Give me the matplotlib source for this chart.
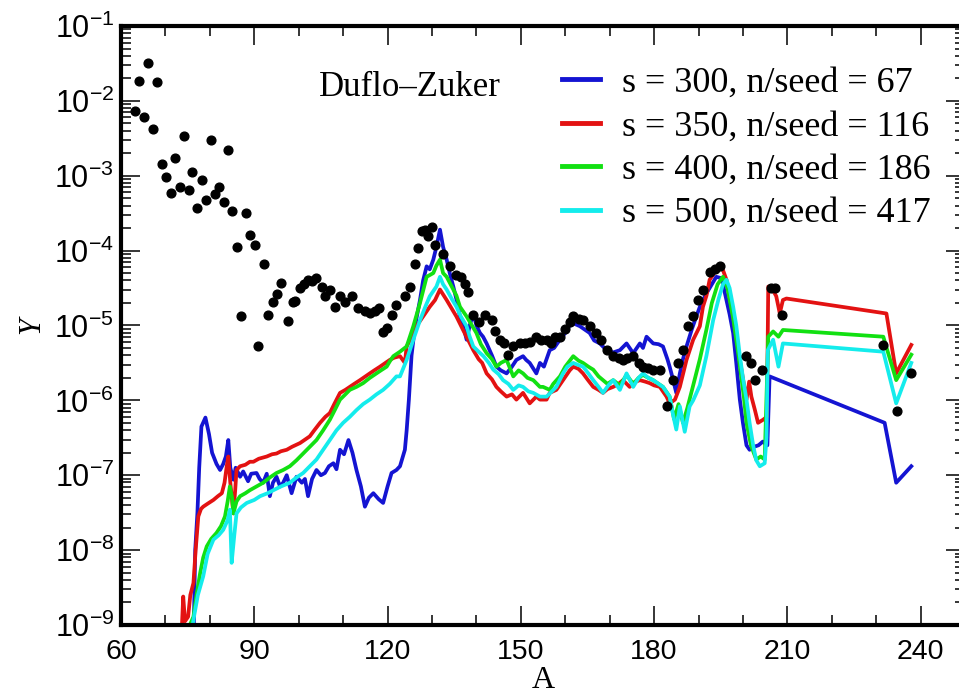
import matplotlib
matplotlib.use("Agg")
import matplotlib.pyplot as plt
import numpy as np
from matplotlib.ticker import LogLocator, MultipleLocator, NullFormatter

# black dots (x = A, log10 Y)
dots_x = [63.2, 64.0, 65.2, 66.1, 67.1, 68.1, 69.2, 70.1, 71.2, 72.1, 73.2, 74.1, 75.2, 76.0, 77.1, 78.2,
          79.1, 80.2, 81.1, 82.1, 83.1, 84.1, 85.0, 86.1, 87.0, 88.1, 89.1, 90.1, 90.9, 92.2, 93.1, 94.1,
          95.1, 96.1, 97.5, 98.8, 99.2, 100.3, 101.2, 102.0, 103.0, 104.0, 105.2, 106.0, 107.0, 108.1,
          109.3, 110.4, 111.9, 113.4, 114.9, 116.0, 117.2, 118.0, 119.0, 119.8, 120.9, 122.0, 123.9, 125.0,
          126.2, 126.9, 127.7, 128.5, 129.2, 130.0, 130.7, 132.5, 134.0, 135.5, 136.5, 137.5, 138.2, 139.3,
          140.5, 141.9, 143.4, 144.2, 145.3, 146.2, 147.2, 148.3, 149.8, 151.0, 152.0, 153.5, 154.5, 155.8,
          156.8, 157.7, 158.8, 160.0, 161.0, 161.8, 163.0, 164.0, 165.5, 167.0, 168.0, 169.3, 170.8, 172.0,
          173.0, 174.0, 175.3, 176.5, 177.5, 178.7, 179.8, 181.3, 182.8, 184.3, 185.3, 186.5, 187.7, 188.8,
          189.9, 191.0, 192.5, 193.7, 194.8, 200.8, 201.9, 202.7, 204.2, 206.4, 207.2, 208.8, 231.6, 234.7,
          237.9]
dots_log = [-2.13, -1.73, -2.22, -1.49, -2.38, -1.75, -2.85, -3.02, -3.23, -2.76, -3.15, -2.47, -3.19, -2.95,
            -3.43, -3.06, -3.32, -2.52, -3.24, -3.15, -3.35, -2.66, -3.47, -3.95, -4.88, -3.50, -3.79, -3.92,
            -5.28, -4.18, -4.86, -4.68, -4.58, -4.43, -4.94, -4.68, -4.67, -4.50, -4.45, -4.39, -4.40, -4.37,
            -4.48, -4.61, -4.52, -4.75, -4.61, -4.69, -4.61, -4.76, -4.80, -4.84, -4.80, -4.77, -5.09, -5.03,
            -4.86, -4.73, -4.61, -4.48, -4.18, -3.97, -3.74, -3.72, -3.81, -3.68, -3.92, -4.05, -4.20, -4.32,
            -4.35, -4.44, -4.55, -4.86, -4.95, -4.86, -4.93, -5.08, -5.19, -5.24, -5.39, -5.28, -5.24, -5.24,
            -5.22, -5.15, -5.19, -5.19, -5.24, -5.15, -5.15, -5.05, -4.95, -4.88, -4.92, -4.93, -5.01, -5.10,
            -5.20, -5.33, -5.41, -5.44, -5.46, -5.44, -5.41, -5.50, -5.55, -5.57, -5.59, -5.59, -6.08, -5.73,
            -5.50, -5.33, -5.01, -4.88, -4.66, -4.52, -4.28, -4.24, -4.21, -5.41, -5.50, -5.73, -5.59, -4.50,
            -4.50, -4.86, -5.26, -6.14, -5.64]

# s = 300
s300_x = [76.3, 76.7, 77.2, 77.6, 78.1, 79.0, 79.8, 80.5, 81.5, 82.3, 83.0, 83.6, 84.15, 84.6, 85.3, 85.8,
          86.8, 87.5, 88.6, 89.3, 90.5, 91.2, 92.0, 92.8, 93.5, 94.2, 95.0, 95.8, 96.5, 97.3, 98.4, 99.5,
          100.7, 101.4, 102.1, 103.0, 104.0, 105.0, 105.9, 106.8, 107.8, 108.5, 109.3, 110.2, 111.2, 112.1,
          113.0, 114.0, 114.9, 115.8, 116.8, 118.0, 119.0, 120.0, 120.9, 122.0, 122.8, 123.9, 124.3, 124.8,
          125.4, 126.2, 127.3, 128.0, 128.8, 129.5, 130.3, 131.0, 131.8, 132.5, 133.3, 134.0, 134.8, 135.5,
          136.3, 137.0, 137.8, 138.5, 139.3, 140.0, 140.8, 141.5, 142.3, 143.5, 144.5, 145.5, 146.8, 148.0,
          149.0, 150.5, 151.2, 152.0, 153.5, 154.3, 155.2, 156.5, 157.5, 158.8, 160.0, 161.0, 161.8, 163.3,
          164.5, 165.5, 166.5, 167.8, 169.3, 170.8, 172.3, 173.8, 174.5, 175.3, 176.8, 177.5, 178.3, 179.8,
          181.0, 182.0, 183.0, 183.5, 184.3, 185.0, 185.8, 186.5, 187.3, 188.5, 189.5, 190.5, 191.8, 193.0,
          194.0, 195.2, 196.3, 197.0, 197.8, 198.5, 199.3, 200.0, 200.8, 201.5, 202.5, 203.5, 204.5, 205.5,
          206.0, 231.9, 234.5, 237.9]
s300_log = [-9.3, -8.0, -7.5, -6.9, -6.35, -6.23, -6.45, -6.7, -6.85, -6.93, -6.85, -6.75, -6.53, -6.9, -7.06,
            -6.9, -7.02, -6.95, -7.08, -6.98, -6.97, -7.05, -7.1, -6.98, -7.28, -7.1, -7.02, -7.15, -7.1, -7.0,
            -7.24, -7.02, -7.1, -7.05, -7.28, -7.05, -6.93, -7.0, -6.97, -6.88, -6.84, -6.92, -6.66, -6.72,
            -6.53, -6.7, -6.93, -7.15, -7.42, -7.3, -7.24, -7.32, -7.37, -7.15, -6.97, -6.93, -6.88, -6.66,
            -6.4, -5.99, -5.4, -5.0, -4.66, -4.4, -4.21, -4.25, -4.12, -3.95, -3.72, -3.95, -4.12, -4.3, -4.48,
            -4.65, -4.88, -5.0, -5.19, -5.0, -4.84, -5.0, -5.1, -5.15, -5.24, -5.4, -5.55, -5.6, -5.64, -5.55,
            -5.46, -5.41, -5.46, -5.5, -5.64, -5.5, -5.55, -5.33, -5.3, -5.19, -5.1, -5.0, -4.97, -5.01, -5.06,
            -5.1, -5.2, -5.24, -5.33, -5.36, -5.33, -5.24, -5.3, -5.37, -5.24, -5.3, -5.15, -5.24, -5.25, -5.28,
            -5.45, -5.55, -5.73, -5.9, -5.64, -5.45, -5.28, -5.05, -4.88, -4.72, -4.57, -4.45, -4.35, -4.37,
            -4.66, -4.85, -5.1, -5.5, -5.99, -6.3, -6.6, -6.66, -6.62, -6.6, -6.55, -6.6, -5.68, -6.30, -7.10,
            -6.88]

# s = 350
s350_x = [73.5, 74.0, 74.4, 75.1, 75.6, 76.3, 76.8, 77.4, 78.0, 78.5, 79.5, 80.8, 81.8, 82.7, 83.3, 83.8,
          84.15, 84.6, 85.3, 85.7, 86.0, 86.8, 88.0, 89.0, 89.8, 91.0, 92.8, 94.0, 95.0, 96.0, 97.3, 98.5,
          100.3, 101.5, 102.5, 103.5, 104.8, 106.0, 107.0, 108.0, 109.3, 110.5, 111.5, 112.5, 113.8, 115.0,
          116.0, 117.0, 118.3, 119.5, 120.5, 121.5, 122.8, 123.9, 124.3, 125.5, 126.5, 128.0, 129.5, 130.7,
          131.8, 133.3, 134.5, 135.5, 137.0, 138.2, 139.3, 140.5, 141.3, 142.3, 143.5, 144.5, 145.5, 146.8,
          148.0, 149.0, 150.5, 152.0, 153.5, 154.3, 155.8, 156.5, 158.0, 159.5, 161.0, 161.8, 163.0, 164.0,
          165.0, 166.3, 167.5, 168.5, 169.5, 170.8, 172.0, 173.0, 174.5, 175.5, 176.8, 178.0, 179.0, 180.0,
          181.3, 182.8, 183.5, 184.7, 185.8, 187.3, 188.8, 190.3, 191.0, 191.8, 192.5, 194.0, 195.2, 196.3,
          197.8, 199.3, 200.8, 201.4, 201.9, 202.7, 203.4, 204.5, 205.4, 205.7, 206.5, 207.5, 208.3, 209.0,
          209.8, 232.3, 234.5, 237.9]
s350_log = [-9.3, -8.62, -8.95, -8.89, -8.6, -8.44, -8.0, -7.55, -7.45, -7.42, -7.38, -7.33, -7.28, -7.24,
            -7.1, -6.88, -6.75, -7.1, -7.51, -7.2, -6.93, -6.88, -6.86, -6.82, -6.82, -6.78, -6.75, -6.72,
            -6.71, -6.68, -6.66, -6.62, -6.57, -6.52, -6.48, -6.4, -6.3, -6.22, -6.17, -6.05, -5.9, -5.86,
            -5.82, -5.78, -5.73, -5.68, -5.64, -5.6, -5.55, -5.5, -5.46, -5.43, -5.41, -5.5, -5.28, -5.15,
            -5.01, -4.88, -4.75, -4.66, -4.52, -4.66, -4.78, -4.88, -5.06, -5.2, -5.33, -5.45, -5.5, -5.64,
            -5.72, -5.82, -5.88, -5.95, -5.92, -5.99, -5.9, -6.04, -5.95, -5.99, -5.99, -5.9, -5.86, -5.73,
            -5.6, -5.55, -5.58, -5.64, -5.72, -5.82, -5.86, -5.9, -5.85, -5.82, -5.78, -5.73, -5.82, -5.76,
            -5.73, -5.75, -5.77, -5.8, -5.82, -5.95, -6.04, -5.99, -5.82, -5.46, -5.19, -5.01, -4.75, -4.6,
            -4.39, -4.26, -4.21, -4.39, -4.88, -5.46, -5.99, -5.75, -5.95, -6.13, -6.3, -6.26, -6.22, -4.48,
            -4.5, -4.61, -4.84, -4.66, -4.64, -4.84, -5.64, -5.26]

# s = 400
s400_x = [74.5, 75.5, 76.3, 77.0, 77.8, 78.5, 79.3, 80.3, 81.5, 82.5, 83.4, 84.0, 84.5, 85.0, 85.3, 86.0,
          86.8, 88.0, 89.0, 90.5, 92.0, 93.5, 95.0, 96.5, 98.0, 99.5, 101.0, 102.5, 104.0, 105.5, 107.0,
          108.2, 109.3, 110.5, 111.5, 113.0, 114.5, 116.0, 117.5, 118.5, 119.8, 120.5, 121.3, 122.8, 124.3,
          125.8, 127.3, 128.8, 130.3, 131.0, 131.8, 132.5, 133.3, 134.8, 135.5, 136.3, 137.8, 139.0, 140.0,
          141.0, 142.3, 143.5, 144.5, 145.5, 146.8, 148.3, 149.5, 150.5, 151.5, 152.8, 154.3, 155.0, 156.5,
          157.3, 158.8, 160.0, 161.8, 163.0, 164.0, 165.2, 166.3, 167.5, 168.5, 169.5, 170.8, 172.3, 173.8,
          175.3, 176.5, 177.5, 178.7, 179.8, 181.0, 182.0, 183.5, 184.5, 185.5, 186.5, 187.5, 188.8, 190.3,
          191.8, 193.0, 194.3, 195.5, 196.5, 197.8, 199.0, 200.2, 200.8, 201.8, 203.0, 204.0, 204.9, 205.7,
          206.8, 208.0, 209.0, 231.6, 234.5, 237.9]
s400_log = [-9.3, -9.0, -8.89, -8.6, -8.31, -8.1, -7.95, -7.85, -7.77, -7.68, -7.55, -7.35, -7.15, -7.3,
            -7.51, -7.35, -7.28, -7.24, -7.2, -7.15, -7.1, -7.03, -6.97, -6.93, -6.88, -6.8, -6.71, -6.62,
            -6.53, -6.4, -6.26, -6.12, -5.99, -5.92, -5.86, -5.82, -5.77, -5.7, -5.64, -5.6, -5.55, -5.48,
            -5.41, -5.35, -5.28, -5.01, -4.7, -4.35, -4.3, -4.2, -4.12, -4.3, -4.35, -4.52, -4.6, -4.75, -4.88,
            -5.0, -5.1, -5.25, -5.37, -5.45, -5.55, -5.5, -5.46, -5.68, -5.6, -5.64, -5.7, -5.73, -5.82, -5.82,
            -5.86, -5.78, -5.68, -5.55, -5.41, -5.47, -5.5, -5.55, -5.59, -5.68, -5.73, -5.78, -5.73, -5.8,
            -5.66, -5.78, -5.7, -5.66, -5.7, -5.73, -5.78, -5.82, -5.95, -6.25, -6.05, -6.3, -6.1, -5.8, -5.45,
            -5.05, -4.7, -4.45, -4.35, -4.5, -4.9, -5.4, -5.95, -6.3, -6.6, -6.79, -6.75, -6.79, -5.15, -5.08,
            -5.15, -5.06, -5.15, -5.73, -5.39]

# s = 500
s500_x = [75.5, 76.3, 77.3, 78.5, 79.5, 80.8, 82.0, 83.0, 84.0, 84.5, 84.9, 85.5, 86.0, 87.0, 88.3, 90.0,
          91.3, 93.0, 94.3, 96.0, 98.0, 99.5, 101.0, 102.5, 104.0, 105.5, 107.0, 108.5, 110.0, 111.5, 113.0,
          114.5, 116.0, 117.5, 119.0, 120.5, 122.0, 122.8, 124.3, 125.8, 127.3, 128.5, 129.5, 131.0, 131.8,
          132.5, 133.3, 134.5, 135.5, 136.5, 137.8, 138.5, 139.3, 140.5, 141.6, 142.8, 143.8, 145.0, 146.0,
          147.2, 148.3, 149.5, 150.5, 151.7, 152.8, 154.3, 155.8, 157.0, 158.0, 159.5, 160.5, 161.8, 163.0,
          164.0, 165.2, 166.3, 167.5, 168.5, 169.7, 170.8, 172.3, 173.8, 175.3, 176.5, 177.5, 178.7, 179.8,
          181.0, 182.0, 183.5, 184.3, 185.0, 185.8, 186.9, 188.0, 188.8, 190.3, 191.8, 193.3, 194.5, 195.5,
          196.3, 197.0, 197.8, 198.5, 199.3, 200.0, 200.8, 201.5, 202.3, 203.0, 203.8, 204.9, 205.3, 205.6,
          206.8, 208.0, 209.0, 231.6, 234.5, 237.9]
s500_log = [-9.3, -8.93, -8.6, -8.35, -8.05, -7.86, -7.8, -7.73, -7.6, -7.46, -8.17, -7.8, -7.51, -7.43,
            -7.37, -7.33, -7.28, -7.24, -7.2, -7.15, -7.1, -7.03, -6.97, -6.88, -6.79, -6.66, -6.53, -6.4,
            -6.3, -6.22, -6.13, -6.05, -5.99, -5.92, -5.86, -5.78, -5.68, -5.68, -5.46, -5.19, -4.93, -4.75,
            -4.61, -4.48, -4.35, -4.45, -4.52, -4.65, -4.75, -4.88, -5.01, -5.15, -5.28, -5.35, -5.41, -5.5,
            -5.59, -5.65, -5.73, -5.78, -5.86, -5.8, -5.82, -5.88, -5.9, -5.95, -5.95, -5.88, -5.82, -5.64,
            -5.55, -5.5, -5.53, -5.55, -5.64, -5.73, -5.82, -5.9, -5.8, -5.73, -5.86, -5.64, -5.82, -5.7,
            -5.64, -5.7, -5.73, -5.78, -5.82, -5.95, -6.2, -6.39, -6.08, -6.42, -6.08, -6.0, -5.8, -5.4, -4.93,
            -4.65, -4.45, -4.39, -4.5, -4.75, -5.0, -5.4, -5.7, -5.99, -6.3, -6.6, -6.8, -6.88, -6.84, -6.5,
            -5.33, -5.19, -5.55, -5.24, -5.35, -6.04, -5.5]

labels = ["s = 300, n/seed = 67", "s = 350, n/seed = 116",
          "s = 400, n/seed = 186", "s = 500, n/seed = 417"]
colors = ["#1414d2", "#e31212", "#12e012", "#14ecec"]

plt.rcParams['font.family'] = 'Liberation Sans'

fig = plt.figure(figsize=(9.59, 6.98), dpi=100)
ax = fig.add_axes([0.1262, 0.1046, 0.8801, 0.8582])

series = [(s300_x, s300_log), (s350_x, s350_log), (s400_x, s400_log), (s500_x, s500_log)]
for (xs, ls), c, lab in zip(series, colors, labels):
    ax.plot(xs, 10.0 ** np.array(ls), color=c, lw=2.7, label=lab, zorder=2)

ax.plot(dots_x, 10.0 ** np.array(dots_log), 'o', color='black', ms=6.3, ls='none', zorder=3)

ax.set_yscale('log')
ax.set_xlim(60, 250)
ax.set_ylim(1e-9, 1e-1)

ax.xaxis.set_major_locator(MultipleLocator(30))
ax.xaxis.set_minor_locator(MultipleLocator(10))
ax.set_yticks([10.0 ** -k for k in range(9, 0, -1)])
ax.set_yticklabels([r'$\mathregular{10^{-%d}}$' % k for k in range(9, 0, -1)])
ax.yaxis.set_minor_locator(LogLocator(base=10, subs=range(2, 10), numticks=20))
ax.yaxis.set_minor_formatter(NullFormatter())

ax.tick_params(which='both', direction='in', top=True, right=True, width=1.1)
ax.tick_params(which='major', length=13.5)
ax.tick_params(which='minor', length=7)
ax.tick_params(axis='x', pad=10, labelsize=20.5)
ax.tick_params(axis='y', pad=5, labelsize=22)
for sp in ax.spines.values():
    sp.set_linewidth(3)

ax.set_xlabel('A', family='Liberation Serif', fontsize=23, labelpad=1)
ax.set_ylabel('Y', family='Liberation Serif', style='italic', fontsize=22, labelpad=6)

ax.text(0.342, 0.897, 'Duflo\u2013Zuker', transform=ax.transAxes, ha='center', va='center',
        family='Liberation Serif', fontsize=25)

leg = ax.legend(loc='upper left', bbox_to_anchor=(0.501, 0.962), frameon=False, borderpad=0,
                handlelength=1.05, handletextpad=0.6, labelspacing=0.28,
                prop={'family': 'Liberation Serif', 'size': 26})
for ln in leg.get_lines():
    ln.set_linewidth(3.5)

fig.savefig('out.png', dpi=100)
